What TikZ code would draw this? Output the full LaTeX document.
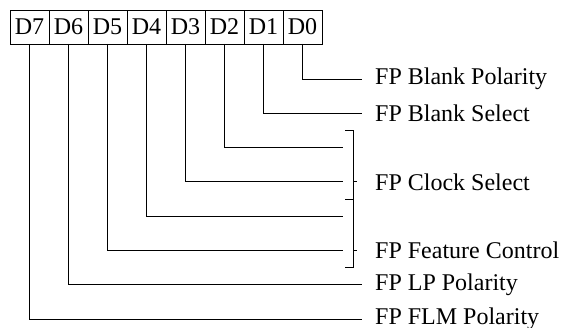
\documentclass[tikz,border=0pt]{standalone}
\usepackage{fontspec}
\setmainfont{Liberation Serif}
\usetikzlibrary{positioning}

\begin{document}
\begin{tikzpicture}[
  x=1pt, y=-1pt,
  font=\fontsize{24}{28}\selectfont,
  bit/.style={draw, line width=0.9pt, minimum width=39pt, minimum height=34pt,
              inner sep=0pt, outer sep=0pt},
  lbl/.style={anchor=west, inner sep=0pt},
  wire/.style={line width=0.9pt}
]
\useasboundingbox (0,0) rectangle (563,328);
% register bits
\node[bit] (d7) at (29.5,27) {D7};
\node[bit, right=0pt of d7] (d6) {D6};
\node[bit, right=0pt of d6] (d5) {D5};
\node[bit, right=0pt of d5] (d4) {D4};
\node[bit, right=0pt of d4] (d3) {D3};
\node[bit, right=0pt of d3] (d2) {D2};
\node[bit, right=0pt of d2] (d1) {D1};
\node[bit, right=0pt of d1] (d0) {D0};
% field names
\node[lbl] (blkpol) at (375,79) {FP Blank Polarity};
\node[lbl] (blksel) at (375,113.3) {FP Blank Select};
\node[lbl] (clksel) at (375,181.9) {FP Clock Select};
\node[lbl] (featctl) at (375,250.5) {FP Feature Control};
\node[lbl] (lppol) at (375,284.8) {FP LP Polarity};
\node[lbl] (flmpol) at (375,319.1) {FP FLM Polarity};
% ends of the grouped bits
\coordinate (e2) at (343,147.6);
\coordinate (e3) at (343,181.9);
\coordinate (e4) at (343,216.2);
\coordinate (e5) at (343,250.5);
\draw[wire] (d0.south) |- ([xshift=-13pt]blkpol.west);
\draw[wire] (d1.south) |- ([xshift=-13pt]blksel.west);
\draw[wire] (d2.south) |- (e2);
\draw[wire] (d3.south) |- (e3);
\draw[wire] (d4.south) |- (e4);
\draw[wire] (d5.south) |- (e5);
\draw[wire] (d6.south) |- ([xshift=-13pt]lppol.west);
\draw[wire] (d7.south) |- ([xshift=-13pt]flmpol.west);
% brackets
\draw[wire] (345,130.7) -- (353,130.7) -- (353,267) -- (345,267);
\draw[wire] (345,199) -- (353,199);
\draw[wire] ([xshift=-22pt]clksel.west) -- ([xshift=-18pt]clksel.west);
\draw[wire] ([xshift=-22pt]featctl.west) -- ([xshift=-18pt]featctl.west);
\end{tikzpicture}
\end{document}
